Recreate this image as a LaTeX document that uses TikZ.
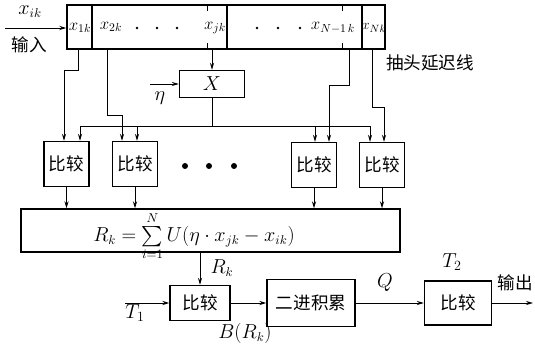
\documentclass[tikz,border=0pt]{standalone}
\usepackage{amsmath}
\usepackage{fontspec}
\usepackage{tikz}
\usetikzlibrary{arrows.meta,calc}
\newfontfamily\cjk{Noto Sans CJK SC}

\begin{document}
\begin{tikzpicture}[x=0.03cm,y=-0.03cm,
  font=\fontsize{16}{18}\selectfont,
  blk/.style={draw,line width=1.1pt,inner sep=0pt,font=\cjk\fontsize{15}{18}\selectfont},
  cmp/.style={blk,minimum width=1.35cm,minimum height=1.35cm},
  cjklbl/.style={font=\cjk\fontsize{15}{18}\selectfont,inner sep=0pt},
  tap/.style={font=\fontsize{14}{15}\selectfont,inner sep=0pt},
  ln/.style={line width=0.8pt},
  arr/.style={line width=0.8pt,-{Stealth[length=6pt,width=3.5pt]}}]
  \useasboundingbox (0,0) rectangle (535,347);
  \node[draw,line width=1.1pt,minimum width=9.54cm,minimum height=1.32cm] (delay) at (226,27) {};
  \foreach \x in {92,227,362} \draw[line width=1.1pt] (\x,5) -- (\x,49);
  \foreach \x in {207,342} {
    \draw[ln] (\x,5) -- (\x,11);
    \draw[ln] (\x,49) -- (\x,43);
  }
  \node[tap] (x1) at (80,28) {$x_{1k}$};
  \node[tap] (x2) at (111,27) {$x_{2k}$};
  \node[tap] (xj) at (215,28) {$x_{jk}$};
  \node[tap] (xn1) at (333,28) {$x_{N-1\,k}$};
  \node[tap,font=\fontsize{13}{15}\selectfont] (xn) at (374,28) {$x_{Nk}$};
  \foreach \x in {137,157,177,257,278,300} \fill (\x,28) circle (1.4);
  \coordinate (in) at (5,28);
  \draw[arr] (in) -- (delay.west |- in);
  \node (xik) at (30,12) {$x_{ik}$};
  \node[cjklbl] (inlbl) at (29,45) {输入};
  \node[cjklbl] (delaylbl) at (430,63) {抽头延迟线};
  \coordinate (t1) at (78,49);
  \coordinate (t2) at (107,49);
  \coordinate (tj) at (212,49);
  \coordinate (tn1) at (349,49);
  \coordinate (tn) at (372,49);
  \node[blk,minimum width=1.95cm,minimum height=0.81cm,font=\fontsize{19}{20}\selectfont] (X) at (212,84) {$X$};
  \draw[arr] (tj) -- (X.north);
  \coordinate (etain) at (150,84);
  \draw[arr] (etain) -- (X.west);
  \node (eta) at (160,98) {$\eta$};
  \node[cmp] (c1) at (66.5,164) {比较};
  \node[cmp] (c2) at (135,164) {比较};
  \node[cmp] (c3) at (314,165) {比较};
  \node[cmp] (c4) at (382,165) {比较};
  \foreach \x in {185,209,234} \fill (\x,166) circle (3);
  \coordinate (b1) at (80,126);
  \coordinate (b2) at (137,126);
  \coordinate (b3) at (315,126);
  \coordinate (b4) at (370,126);
  \draw[ln] (b1) -- (b4);
  \draw[ln] (X.south) -- (X.south |- b1);
  \draw[arr] (b1) -- (b1 |- c1.north);
  \draw[arr] (b2) -- (b2 |- c2.north);
  \draw[arr] (b3) -- (b3 |- c3.north);
  \draw[arr] (b4) -- (b4 |- c4.north);
  \draw[arr] (t1) -- ++(0,21) -| ($(c1.north)+(-2.5,0)$);
  \draw[arr] (t2) -- ++(0,66) -| ($(c2.north)+(-13,0)$);
  \draw[arr] (tn1) -- ++(0,36) -| ($(c3.north)+(15,0)$);
  \draw[arr] (tn) -- ++(0,58) -| ($(c4.north)+(2,0)$);
  \node[draw,line width=1.1pt,minimum width=11.37cm,minimum height=1.29cm] (sum) at (210.5,230.5) {};
  \node[inner sep=0pt] (rk) at (194,236) {$R_k=\sum\limits_{i=1}^{N} U(\eta\cdot x_{jk}-x_{ik})$};
  \foreach \c in {c1,c2,c3,c4} \draw[arr] (\c.south) -- (\c.south |- sum.north);
  \node[blk,minimum width=1.8cm,minimum height=1.05cm] (c5) at (200,303) {比较};
  \draw[arr] (c5.north |- sum.south) -- (c5.north);
  \node (rklbl) at (222,268) {$R_k$};
  \coordinate (t1in) at (125,303);
  \draw[arr] (t1in) -- (c5.west);
  \node[font=\fontsize{17}{18}\selectfont] (T1) at (135,313) {$T_1$};
  \node[blk,minimum width=2.64cm,minimum height=1.41cm] (acc) at (311,303) {二进积累};
  \draw[arr] (c5.east) -- (acc.west);
  \node (brk) at (245,333) {$B(R_k)$};
  \node[blk,minimum width=2.01cm,minimum height=1.32cm] (c6) at (458,303) {比较};
  \draw[arr] (acc.east) -- (c6.west);
  \node (q) at (385,283) {$Q$};
  \node[font=\fontsize{17}{18}\selectfont] (T2) at (452,262) {$T_2$};
  \coordinate (out) at (533,303);
  \draw[arr] (c6.east) -- (out);
  \node[cjklbl] (outlbl) at (515,283) {输出};
\end{tikzpicture}
\end{document}
